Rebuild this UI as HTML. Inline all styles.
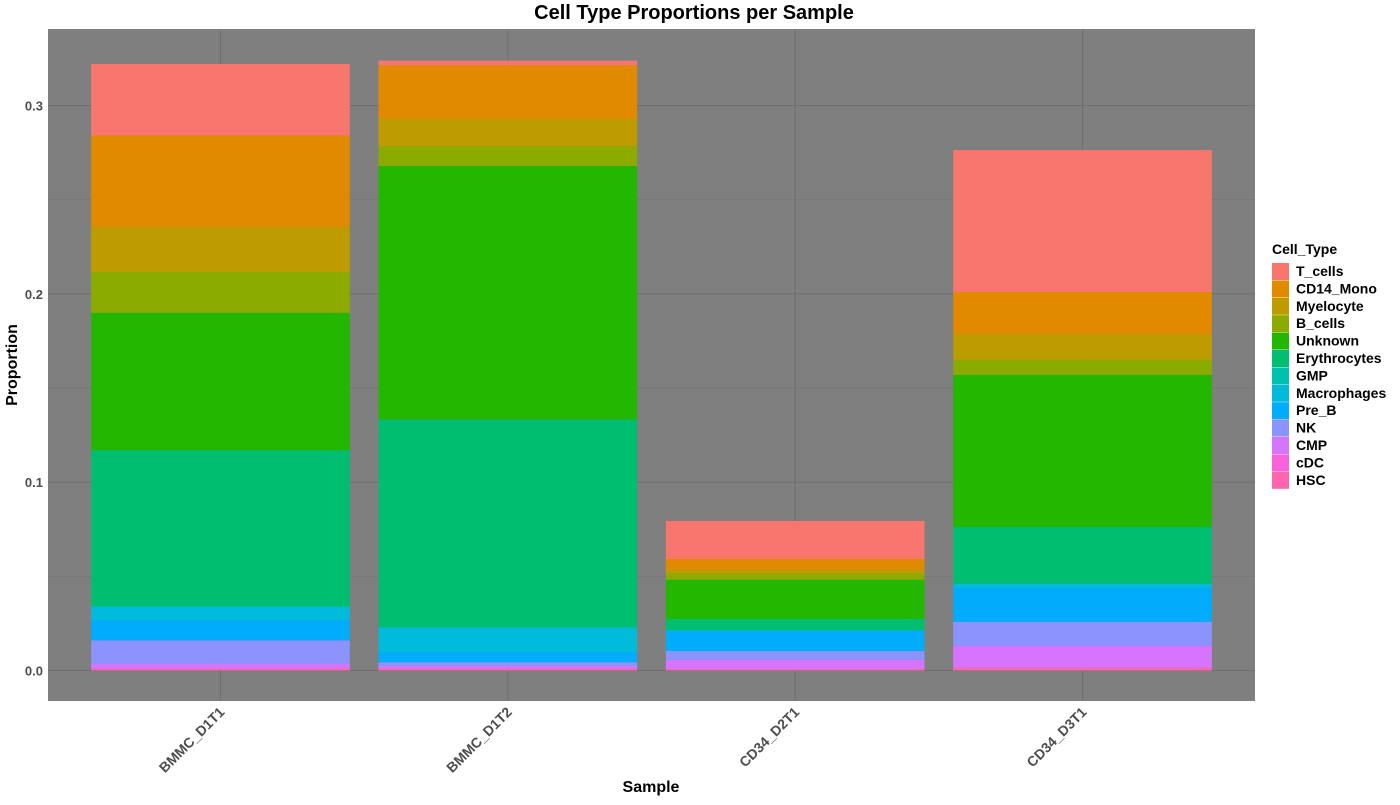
<!DOCTYPE html>
<html><head><meta charset="utf-8"><style>
body{margin:0;background:#fff;font-family:"Liberation Sans",sans-serif;}
svg text{font-family:"Liberation Sans",sans-serif;}
</style></head><body>
<svg id="chart" width="1400" height="800" xmlns="http://www.w3.org/2000/svg">
<text x="694" y="19" text-anchor="middle" font-size="20" font-weight="bold" fill="#000">Cell Type Proportions per Sample</text>
<rect x="48" y="29" width="1207" height="672" fill="#7f7f7f"/>
<g id="grid"></g><g id="bars"></g><g id="axes"></g><g id="legend"></g>
<text x="651" y="792" text-anchor="middle" font-size="16" font-weight="bold">Sample</text>
<text transform="translate(17,365) rotate(-90)" text-anchor="middle" font-size="16" font-weight="bold">Proportion</text>
</svg>
<script>
const samples=["BMMC_D1T1","BMMC_D1T2","CD34_D2T1","CD34_D3T1"];
const cellTypes=["HSC","cDC","CMP","NK","Pre_B","Macrophages","GMP","Erythrocytes","Unknown","B_cells","Myelocyte","CD14_Mono","T_cells"];
const colors=["#FF65AC","#F962DD","#D575FE","#8B93FF","#00ACFC","#00BBDA","#00C1AB","#00BE70","#24B700","#8CAB00","#BE9C00","#E18A00","#F8766D"];
const vHSC=[0.001,0.001,0.0008,0.0015];
const vcDC=[0,0,0,0];
const vCMP=[0.0025,0.0014,0.0049,0.0117];
const vNK=[0.0125,0.002,0.0047,0.0127];
const vPreB=[0.011,0.0055,0.0106,0.0181];
const vMacro=[0.007,0.013,0.0004,0.002];
const vGMP=[0,0,0,0];
const vEry=[0.083,0.1105,0.006,0.0302];
const vUnk=[0.073,0.1345,0.0208,0.0808];
const vB=[0.0216,0.0105,0.0032,0.008];
const vMye=[0.024,0.0145,0.0023,0.0135];
const vCD14=[0.0485,0.0285,0.0055,0.0225];
const vT=[0.038,0.0025,0.0202,0.0754];
const yTicks=[0,0.1,0.2,0.3];
const yTickLabels=["0.0","0.1","0.2","0.3"];
const series=[vHSC,vcDC,vCMP,vNK,vPreB,vMacro,vGMP,vEry,vUnk,vB,vMye,vCD14,vT];
const NS="http://www.w3.org/2000/svg";
const X0=48,X1=1255,band=(X1-X0)/(samples.length+0.2);
const y=v=>670.5-v*1883;
const xc=i=>X0+band*(i+0.6);
function mk(t,a,p){const e=document.createElementNS(NS,t);for(const k in a)e.setAttribute(k,a[k]);p.appendChild(e);return e;}
const g=document.getElementById('grid'),b=document.getElementById('bars'),ax=document.getElementById('axes'),lg=document.getElementById('legend');
for(let n=-1;n<=6;n++){const v=n*0.05;const yy=y(v);if(yy<29||yy>701)continue;const l=mk('line',{x1:X0,x2:X1,y1:yy,y2:yy,stroke:'#707070','stroke-width':n%2==0?1.1:0.5},g);

}
samples.forEach((s,i)=>{const l=mk('line',{x1:xc(i),x2:xc(i),y1:29,y2:701,stroke:'#707070','stroke-width':1.1},g);


let cum=0;const w=band*0.9;
series.forEach((ser,k)=>{const v=ser[i];if(v<=0)return;const r=mk('rect',{x:xc(i)-w/2,y:y(cum+v),width:w,height:y(cum)-y(cum+v),fill:colors[k]},b);


cum+=v;});
const t=mk('text',{transform:`translate(${xc(i)+5},${713}) rotate(-45)`,'text-anchor':'end','font-size':14,'font-weight':'bold',fill:'#4d4d4d'},ax);t.textContent=s;

});
yTicks.forEach((v,i)=>{const t=mk('text',{x:43,y:y(v)+5,'text-anchor':'end','font-size':13,'font-weight':'bold',fill:'#4d4d4d'},ax);t.textContent=yTickLabels[i];

});
const lt=mk('text',{x:1272,y:254,'font-size':14,'font-weight':'bold'},lg);lt.textContent='Cell_Type';


for(let j=0;j<cellTypes.length;j++){const k=cellTypes.length-1-j;const yy=263+j*17.4;
const r=mk('rect',{x:1272,y:yy,width:17,height:17,fill:colors[k]},lg);


const t=mk('text',{x:1296,y:yy+13,'font-size':14,'font-weight':'bold'},lg);t.textContent=cellTypes[k];

}
</script>
</body></html>
